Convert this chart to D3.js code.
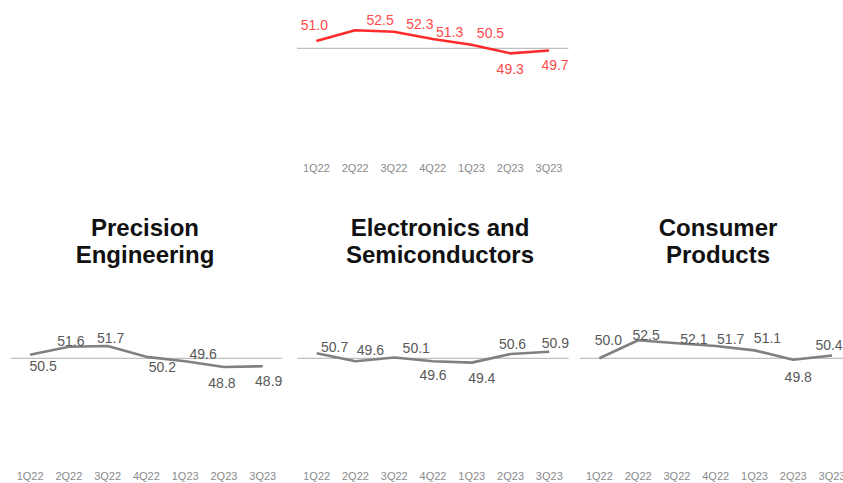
<!DOCTYPE html>
<html>
<head>
<meta charset="utf-8">
<script src="https://cdn.jsdelivr.net/npm/d3@7"></script>
<style>
  body { margin: 0; background: #fff; }
  svg { display: block; font-family: "Liberation Sans", Arial, sans-serif; }
  .tick text { fill: #8a8a8a; font-size: 11px; }
</style>
</head>
<body>
<div id="chart"></div>
<script>
// Quarterly index readings, 50 = no change
const quarters = ['1Q22', '2Q22', '3Q22', '4Q22', '1Q23', '2Q23', '3Q23'];
const overall = [51.0, 52.5, 52.3, 51.3, 50.5, 49.3, 49.7];
const precision = [50.5, 51.6, 51.7, 50.2, 49.6, 48.8, 48.9];
const electronics = [50.7, 49.6, 50.1, 49.6, 49.4, 50.6, 50.9];
const consumer = [50.0, 52.5, 52.1, 51.7, 51.1, 49.8, 50.4];

const W = 843, H = 483;
const svg = d3.select('#chart').append('svg')
    .attr('width', W)
    .attr('height', H);

// panel layout (label nudges copy the hand-placed labels of the original)
const panels = [
    { values: overall, title: null, left: 297, base: 48.3, axisY: 162, color: '#ff2b2b', labelColor: '#ff4a4a',
      dx: [-2, 25, 26, 17, 19, 0, 6], dy: [-16, -10, -8, -7, -12, 16, 15] },
    { values: precision, title: ['Precision', 'Engineering'], left: 10.7, base: 358.3, axisY: 470, titleX: 145,
      color: '#808080', labelColor: '#595959',
      dx: [13, 2, 3, 16, 18, -2, 6], dy: [11, -6, -8, 10, -7, 16, 15] },
    { values: electronics, title: ['Electronics and', 'Semiconductors'], left: 297.3, base: 358.3, axisY: 470, titleX: 440,
      color: '#808080', labelColor: '#595959',
      dx: [18, 15, 22, 0, 10, 2, 6], dy: [-6, -11, -10, 14, 15, -10, -9] },
    { values: consumer, title: ['Consumer', 'Products'], left: 580, base: 358.3, axisY: 470, titleX: 718,
      color: '#808080', labelColor: '#595959',
      dx: [9, 8, 17, 15, 13, 5, -3], dy: [-18, -5, -4, -7.5, -12, 17, -10] }
];

const panelWidth = 271.4;
const unitPx = 7.2;

panels.forEach(p => {
    const x = d3.scaleBand()
        .domain(quarters)
        .range([p.left, p.left + panelWidth]);

    const y = d3.scaleLinear()
        .domain([35, 65])
        .range([p.base + 15 * unitPx, p.base - 15 * unitPx]);

    const cx = d => x(d) + x.bandwidth() / 2;

    // 50 reference line (horizontal axis)
    svg.append('line')
        .attr('x1', x.range()[0])
        .attr('x2', x.range()[1])
        .attr('y1', y(50))
        .attr('y2', y(50))
        .attr('stroke', '#bfbfbf')
        .attr('stroke-width', 1.2);

    // category labels
    const axis = svg.append('g')
        .attr('transform', `translate(0,${p.axisY})`)
        .call(d3.axisBottom(x).tickSize(0).tickPadding(2));
    axis.select('.domain').remove();
    axis.selectAll('text')
        .style('font-family', '"Liberation Sans", Arial, sans-serif');

    const line = d3.line()
        .x((d, i) => cx(quarters[i]))
        .y(d => y(d));

    svg.append('path')
        .datum(p.values)
        .attr('d', line)
        .attr('fill', 'none')
        .attr('stroke', p.color)
        .attr('stroke-width', 2.6)
        .attr('stroke-linejoin', 'round');

    svg.selectAll(null)
        .data(p.values)
        .enter()
        .append('text')
        .attr('x', (d, i) => cx(quarters[i]) + p.dx[i])
        .attr('y', (d, i) => y(d) + p.dy[i])
        .attr('text-anchor', 'middle')
        .attr('dominant-baseline', 'central')
        .style('font-size', '14px')
        .style('fill', p.labelColor)
        .text(d => d.toFixed(1));

    if (p.title) {
        const t = svg.append('text')
            .attr('text-anchor', 'middle')
            .style('font-size', '24px')
            .style('font-weight', '700')
            .style('fill', '#111');
        p.title.forEach((s, i) => {
            t.append('tspan')
                .attr('x', p.titleX)
                .attr('y', 235.5 + i * 27.8)
                .text(s);
        });
    }
});
</script>
</body>
</html>
